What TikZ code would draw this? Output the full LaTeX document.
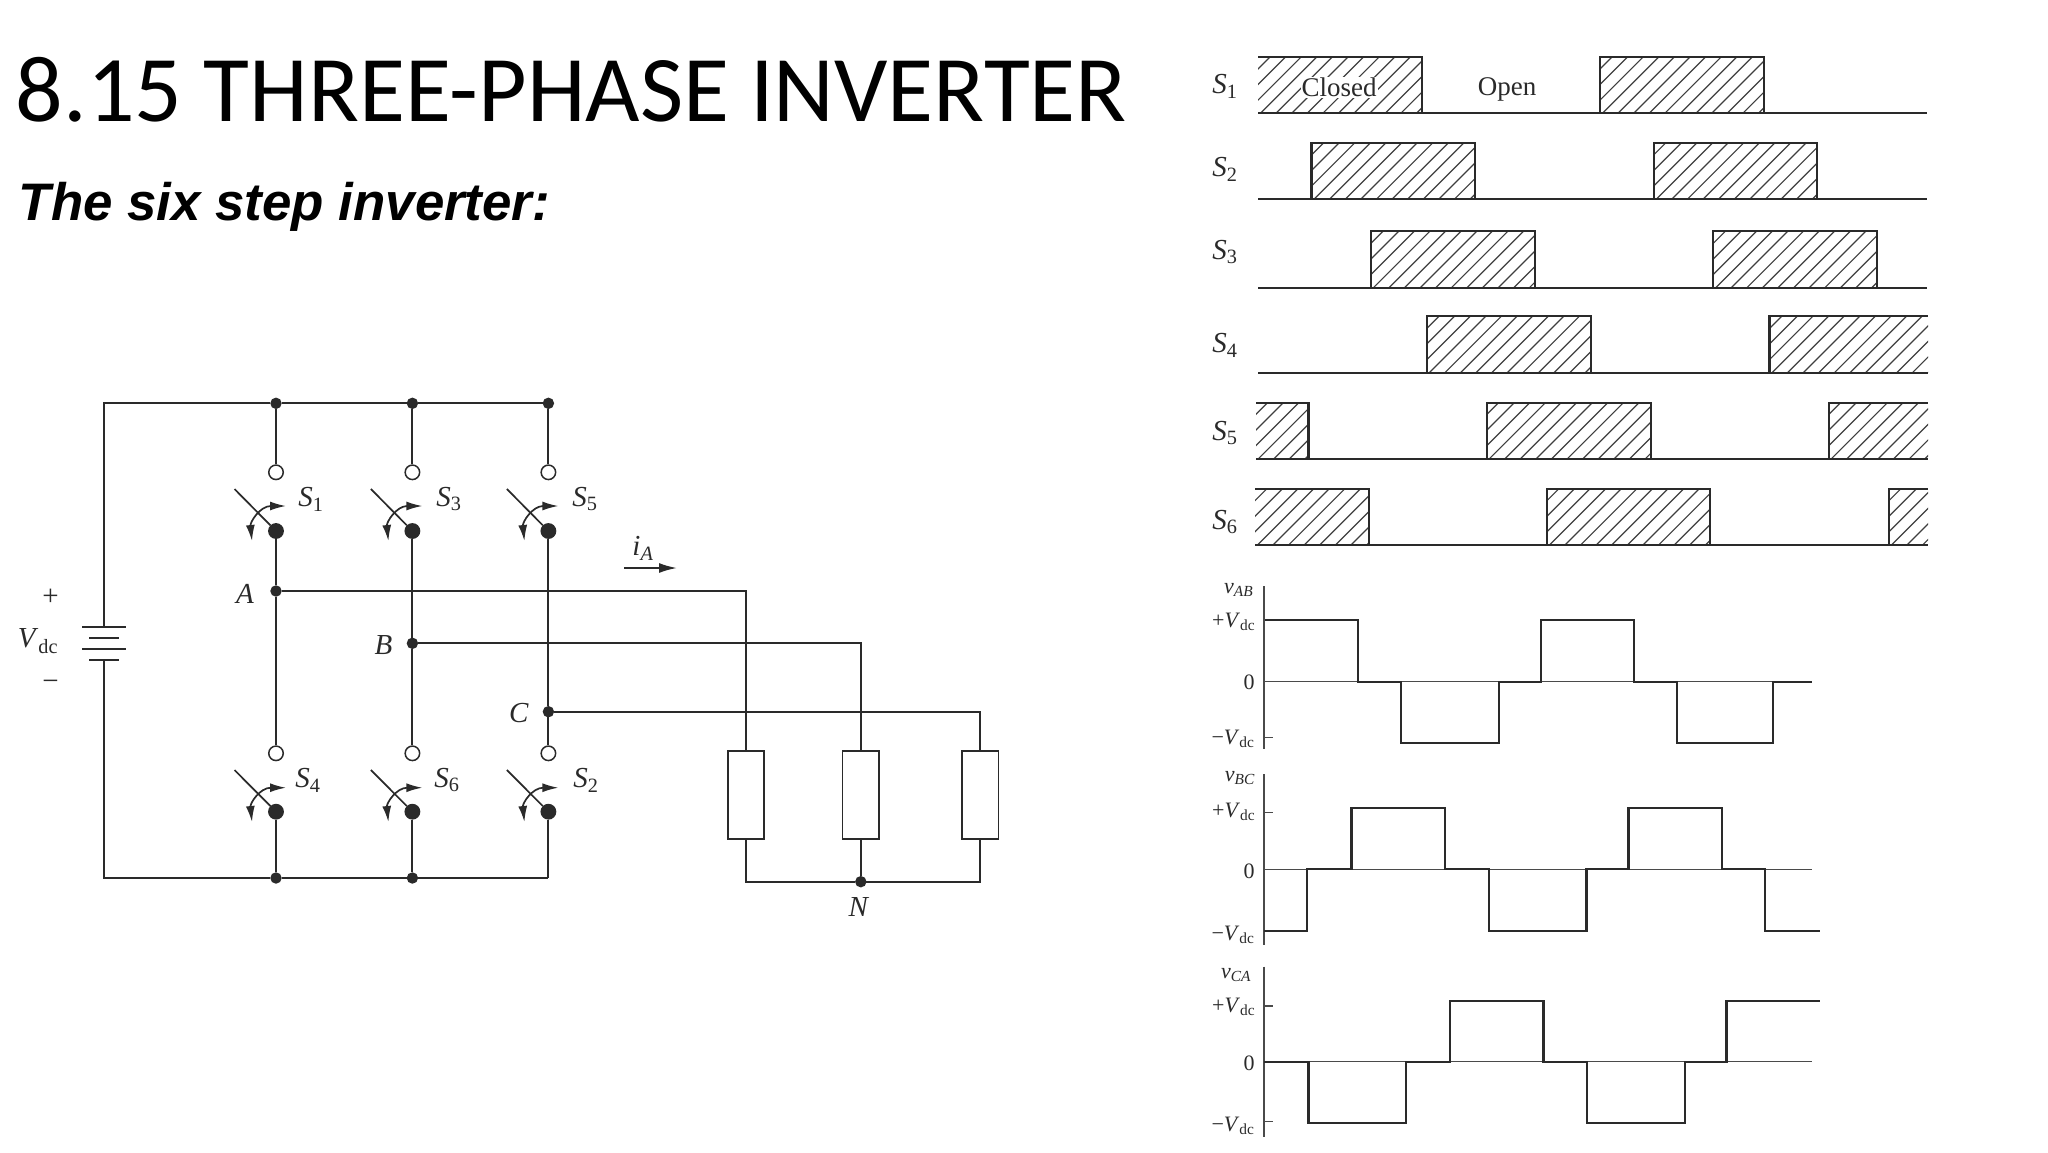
\documentclass[tikz,border=0pt]{standalone}
\usepackage{fontspec}
\setmainfont{Liberation Serif}
\newfontfamily\titlefont{Carlito}
\newfontfamily\subfont{Liberation Sans}
\usetikzlibrary{arrows.meta}
\definecolor{ink}{HTML}{2A2A2A}
\newcommand{\vdc}{\textit{V}\textsubscript{dc}}
\begin{document}
\begin{tikzpicture}[x=1pt, y=-1pt, line width=1.8pt, draw=ink, text=ink,
    wire/.style = {draw=ink, line width=1.9pt},
    main/.style = {draw=ink, fill=ink, circle, inner sep=0pt, minimum size=9.5pt},
    big/.style = {draw=ink, fill=ink, circle, inner sep=0pt, minimum size=14pt},
    open/.style = {draw=ink, fill=white, circle, inner sep=0pt, minimum size=14.5pt, line width=1.5pt},
    load/.style = {draw=ink, fill=white, rectangle, inner sep=0pt, minimum width=36.5pt, minimum height=88pt},
    lab/.style = {inner sep=0pt, font=\fontsize{29}{32}\selectfont},
    vlab/.style = {inner sep=0pt, font=\fontsize{22}{24}\selectfont},
    blade/.style = {draw=ink, line width=1.7pt},
    swing/.style = {draw=ink, line width=1.7pt, {Latex[length=16pt,width=9pt]}-{Latex[length=16pt,width=9pt]}},
    hatch/.style = {path picture={\foreach \k in {-60,-44.4,...,170} \draw[draw=ink!90, line width=1.2pt] ([xshift=\k pt]path picture bounding box.south west) -- ++(70,-70);}},
    wave/.style = {draw=ink, line width=2.3pt},
    thinax/.style = {draw=ink!85, line width=1.4pt}]
    \useasboundingbox (0,0) rectangle (2048,1152);
    \fill[white] (0,0) rectangle (2048,1152);
    % heading
    \node[anchor=base west, inner sep=0pt, text=black, font=\titlefont\fontsize{94}{100}\selectfont] (title) at (15,121) {8.15 THREE-PHASE INVERTER};
    \node[anchor=base west, inner sep=0pt, text=black, font=\subfont\bfseries\itshape\fontsize{52.8}{56}\selectfont] (subtitle) at (18,220) {The six step inverter:};
    % circuit
    \node[main] (t1) at (276,403.3) {};
    \node[main] (t3) at (412.4,403.3) {};
    \node[main] (t5) at (548.4,403.3) {};
    \node[open] (o1) at (276,472.3) {};
    \node[open] (o3) at (412.4,472.3) {};
    \node[open] (o5) at (548.4,472.3) {};
    \node[big] (c1) at (276,531) {};
    \node[big] (c3) at (412.4,531) {};
    \node[big] (c5) at (548.4,531) {};
    \node[main] (A) at (276,591) {};
    \node[main] (B) at (412.4,643.3) {};
    \node[main] (C) at (548.4,711.7) {};
    \node[open] (o4) at (276,753.3) {};
    \node[open] (o6) at (412.4,753.3) {};
    \node[open] (o2) at (548.4,753.3) {};
    \node[big] (c4) at (276,811.7) {};
    \node[big] (c6) at (412.4,811.7) {};
    \node[big] (c2) at (548.4,811.7) {};
    \node[main] (b4) at (276,878) {};
    \node[main] (b6) at (412.4,878) {};
    \coordinate (b2) at (548.4,878);
    \coordinate (tl) at (103.6,403.3);
    \coordinate (bl) at (103.6,878);
    \coordinate (p1w) at (82,627.3);
    \coordinate (p1e) at (126,627.3);
    \coordinate (p2w) at (89,638.3);
    \coordinate (p2e) at (118.6,638.3);
    \coordinate (p3w) at (82,649.3);
    \coordinate (p3e) at (126,649.3);
    \coordinate (p4w) at (89,660.3);
    \coordinate (p4e) at (118.6,660.3);
    \coordinate (p1) at (103.6,627.3);
    \coordinate (p4) at (103.6,660.3);
    \node[load] (l1) at (746,794.8) {};
    \node[load] (l2) at (860.8,794.8) {};
    \node[load] (l3) at (980.3,794.8) {};
    \node[main] (N) at (860.8,881.7) {};
    \draw[wire] (p1) -- (tl) -- (t1);
    \draw[wire] (t1) -- (t3);
    \draw[wire] (t3) -- (t5);
    \draw[wire] (t1) -- (o1);
    \draw[wire] (t3) -- (o3);
    \draw[wire] (t5) -- (o5);
    \draw[wire] (c1) -- (A);
    \draw[wire] (A) -- (o4);
    \draw[wire] (c3) -- (B);
    \draw[wire] (B) -- (o6);
    \draw[wire] (c5) -- (C);
    \draw[wire] (C) -- (o2);
    \draw[wire] (c4) -- (b4);
    \draw[wire] (c6) -- (b6);
    \draw[wire] (c2) -- (b2);
    \draw[wire] (p4) -- (bl) -- (b4);
    \draw[wire] (b4) -- (b6);
    \draw[wire] (b6) -- (b2);
    \draw[wire] (p1w) -- (p1e);
    \draw[wire] (p2w) -- (p2e);
    \draw[wire] (p3w) -- (p3e);
    \draw[wire] (p4w) -- (p4e);
    \draw[wire] (A) -| (l1.north);
    \draw[wire] (B) -| (l2.north);
    \draw[wire] (C) -| (l3.north);
    \draw[wire] (l1.south) |- (N);
    \draw[wire] (l3.south) |- (N);
    \draw[wire] (l2.south) -- (N);
    % switches
    \coordinate (e1) at (234.5,489);
    \coordinate (e3) at (370.9,489);
    \coordinate (e5) at (506.9,489);
    \coordinate (e4) at (234.5,770);
    \coordinate (e6) at (370.9,770);
    \coordinate (e2) at (506.9,770);
    \draw[blade] (c1) -- (e1);
    \draw[blade] (c3) -- (e3);
    \draw[blade] (c5) -- (e5);
    \draw[blade] (c4) -- (e4);
    \draw[blade] (c6) -- (e6);
    \draw[blade] (c2) -- (e2);
    \draw[swing] (252,541) .. controls (250,522) and (260,506) .. (286,506);
    \draw[swing] (388.4,541) .. controls (386.4,522) and (396.4,506) .. (422.4,506);
    \draw[swing] (524.4,541) .. controls (522.4,522) and (532.4,506) .. (558.4,506);
    \draw[swing] (252,822) .. controls (250,803) and (260,787.7) .. (286,787.7);
    \draw[swing] (388.4,822) .. controls (386.4,803) and (396.4,787.7) .. (422.4,787.7);
    \draw[swing] (524.4,822) .. controls (522.4,803) and (532.4,787.7) .. (558.4,787.7);
    \node[lab] (s1) at (311,499) {\textit{S}\textsubscript{1}};
    \node[lab] (s3) at (449,499) {\textit{S}\textsubscript{3}};
    \node[lab] (s5) at (585,499) {\textit{S}\textsubscript{5}};
    \node[lab] (s4) at (308,780) {\textit{S}\textsubscript{4}};
    \node[lab] (s6) at (447,780) {\textit{S}\textsubscript{6}};
    \node[lab] (s2) at (586,780) {\textit{S}\textsubscript{2}};
    \node[lab] (lA) at (245,594) {\textit{A}};
    \node[lab] (lB) at (383.5,645) {\textit{B}};
    \node[lab] (lC) at (519,713) {\textit{C}};
    \node[lab] (lN) at (859,907) {\textit{N}};
    \node[lab] (plus) at (50.6,597) {+};
    \node[lab] (minus) at (50.6,685) {−};
    \node[lab] (vsrc) at (38,641) {\vdc};
    \node[lab] (iA) at (643,548) {\textit{i}\textsubscript{\textit{A}}};
    \coordinate (ia1) at (624,568);
    \coordinate (ia2) at (677,568);
    \draw[wire,-{Latex[length=18pt,width=10pt]}] (ia1) -- (ia2);
    % switching pattern
    \path[hatch] (1258,56.7) rectangle (1422,113.3);
    \path[hatch] (1600,56.7) rectangle (1763.7,113.3);
    \path[hatch] (1311.5,143.3) rectangle (1475.3,199.3);
    \path[hatch] (1653.7,143.3) rectangle (1817,199.3);
    \path[hatch] (1371,231.3) rectangle (1535,287.7);
    \path[hatch] (1713.3,231.3) rectangle (1876.7,287.7);
    \path[hatch] (1426.9,316) rectangle (1591,372.7);
    \path[hatch] (1769.6,316) rectangle (1928,372.7);
    \path[hatch] (1256,402.7) rectangle (1308.6,458.7);
    \path[hatch] (1487,402.7) rectangle (1651,458.7);
    \path[hatch] (1829,402.7) rectangle (1928,458.7);
    \path[hatch] (1255,488.7) rectangle (1369,545);
    \path[hatch] (1547,488.7) rectangle (1710,545);
    \path[hatch] (1889,488.7) rectangle (1928,545);
    \draw[wave] (1258,56.7) -- (1422,56.7) -- (1422,113.3) -- (1600,113.3) -- (1600,56.7) -- (1763.7,56.7) -- (1763.7,113.3) -- (1927,113.3);
    \draw[wave] (1258,113.3) -- (1422,113.3);
    \draw[wave] (1600,113.3) -- (1763.7,113.3);
    \draw[wave] (1258,199.3) -- (1311.5,199.3) -- (1311.5,143.3) -- (1475.3,143.3) -- (1475.3,199.3) -- (1653.7,199.3) -- (1653.7,143.3) -- (1817,143.3) -- (1817,199.3) -- (1927,199.3);
    \draw[wave] (1311.5,199.3) -- (1475.3,199.3);
    \draw[wave] (1653.7,199.3) -- (1817,199.3);
    \draw[wave] (1258,287.7) -- (1371,287.7) -- (1371,231.3) -- (1535,231.3) -- (1535,287.7) -- (1713.3,287.7) -- (1713.3,231.3) -- (1876.7,231.3) -- (1876.7,287.7) -- (1927,287.7);
    \draw[wave] (1371,287.7) -- (1535,287.7);
    \draw[wave] (1713.3,287.7) -- (1876.7,287.7);
    \draw[wave] (1258,372.7) -- (1426.9,372.7) -- (1426.9,316) -- (1591,316) -- (1591,372.7) -- (1769.6,372.7) -- (1769.6,316) -- (1928,316);
    \draw[wave] (1426.9,372.7) -- (1591,372.7);
    \draw[wave] (1769.6,372.7) -- (1928,372.7);
    \draw[wave] (1256,402.7) -- (1308.6,402.7) -- (1308.6,458.7) -- (1487,458.7) -- (1487,402.7) -- (1651,402.7) -- (1651,458.7) -- (1829,458.7) -- (1829,402.7) -- (1928,402.7);
    \draw[wave] (1256,458.7) -- (1308.6,458.7);
    \draw[wave] (1487,458.7) -- (1651,458.7);
    \draw[wave] (1829,458.7) -- (1928,458.7);
    \draw[wave] (1255,488.7) -- (1369,488.7) -- (1369,545) -- (1547,545) -- (1547,488.7) -- (1710,488.7) -- (1710,545) -- (1889,545) -- (1889,488.7) -- (1928,488.7);
    \draw[wave] (1255,545) -- (1369,545);
    \draw[wave] (1547,545) -- (1710,545);
    \draw[wave] (1889,545) -- (1928,545);
    \node[lab] (n1) at (1225,86) {\textit{S}\textsubscript{1}};
    \node[lab] (n2) at (1225,169) {\textit{S}\textsubscript{2}};
    \node[lab] (n3) at (1225,252) {\textit{S}\textsubscript{3}};
    \node[lab] (n4) at (1225,345) {\textit{S}\textsubscript{4}};
    \node[lab] (n5) at (1225,433) {\textit{S}\textsubscript{5}};
    \node[lab] (n6) at (1225,522) {\textit{S}\textsubscript{6}};
    \node[lab, font=\fontsize{27}{30}\selectfont, fill=white, inner sep=1pt] (closed) at (1339,87) {Closed};
    \node[lab, font=\fontsize{27}{30}\selectfont] (opened) at (1507,89) {Open};
    % line voltages
    \draw[thinax] (1264,586) -- (1264,749);
    \draw[thinax] (1264,681.7) -- (1812,681.7);
    \draw[thinax] (1264,737.7) -- (1272.5,737.7);
    \draw[wave] (1265,620.3) -- (1357.8,620.3) -- (1357.8,681.7) -- (1401,681.7) -- (1401,743) -- (1498.8,743) -- (1498.8,681.7) -- (1541,681.7) -- (1541,620.3) -- (1634,620.3) -- (1634,681.7) -- (1677,681.7) -- (1677,743) -- (1773,743) -- (1773,681.7) -- (1812,681.7);
    \node[vlab] (vab) at (1238.7,590) {\textit{v}\textsubscript{\textit{AB}}};
    \node[vlab] (vab1) at (1233.7,622) {+\vdc};
    \node[vlab] (vab2) at (1249,682) {0};
    \node[vlab] (vab3) at (1233,739) {−\vdc};
    \draw[thinax] (1264,774) -- (1264,945);
    \draw[thinax] (1264,869.3) -- (1812,869.3);
    \draw[thinax] (1264,812.3) -- (1272.5,812.3);
    \draw[wave] (1264,930.7) -- (1307.3,930.7) -- (1307.3,869.3) -- (1351.5,869.3) -- (1351.5,808.3) -- (1445,808.3) -- (1445,869.3) -- (1488.7,869.3) -- (1488.7,930.7) -- (1586.4,930.7) -- (1586.4,869.3) -- (1628.5,869.3) -- (1628.5,808.3) -- (1722,808.3) -- (1722,869.3) -- (1764.8,869.3) -- (1764.8,930.7) -- (1820,930.7);
    \node[vlab] (vbc) at (1240,778) {\textit{v}\textsubscript{\textit{BC}}};
    \node[vlab] (vbc1) at (1233.7,812) {+\vdc};
    \node[vlab] (vbc2) at (1249,871) {0};
    \node[vlab] (vbc3) at (1233,935) {−\vdc};
    \draw[thinax] (1264,966.7) -- (1264,1137.3);
    \draw[thinax] (1264,1061.7) -- (1812,1061.7);
    \draw[thinax] (1264,1006) -- (1272.5,1006);
    \draw[thinax] (1264,1121.7) -- (1272.5,1121.7);
    \draw[wave] (1264,1061.7) -- (1308.6,1061.7) -- (1308.6,1123) -- (1406,1123) -- (1406,1061.7) -- (1450,1061.7) -- (1450,1000.7) -- (1543.4,1000.7) -- (1543.4,1061.7) -- (1587,1061.7) -- (1587,1123) -- (1685,1123) -- (1685,1061.7) -- (1726.5,1061.7) -- (1726.5,1000.7) -- (1820,1000.7);
    \node[vlab] (vca) at (1236,975) {\textit{v}\textsubscript{\textit{CA}}};
    \node[vlab] (vca1) at (1233.7,1007) {+\vdc};
    \node[vlab] (vca2) at (1249,1063) {0};
    \node[vlab] (vca3) at (1233,1126) {−\vdc};
\end{tikzpicture}
\end{document}
